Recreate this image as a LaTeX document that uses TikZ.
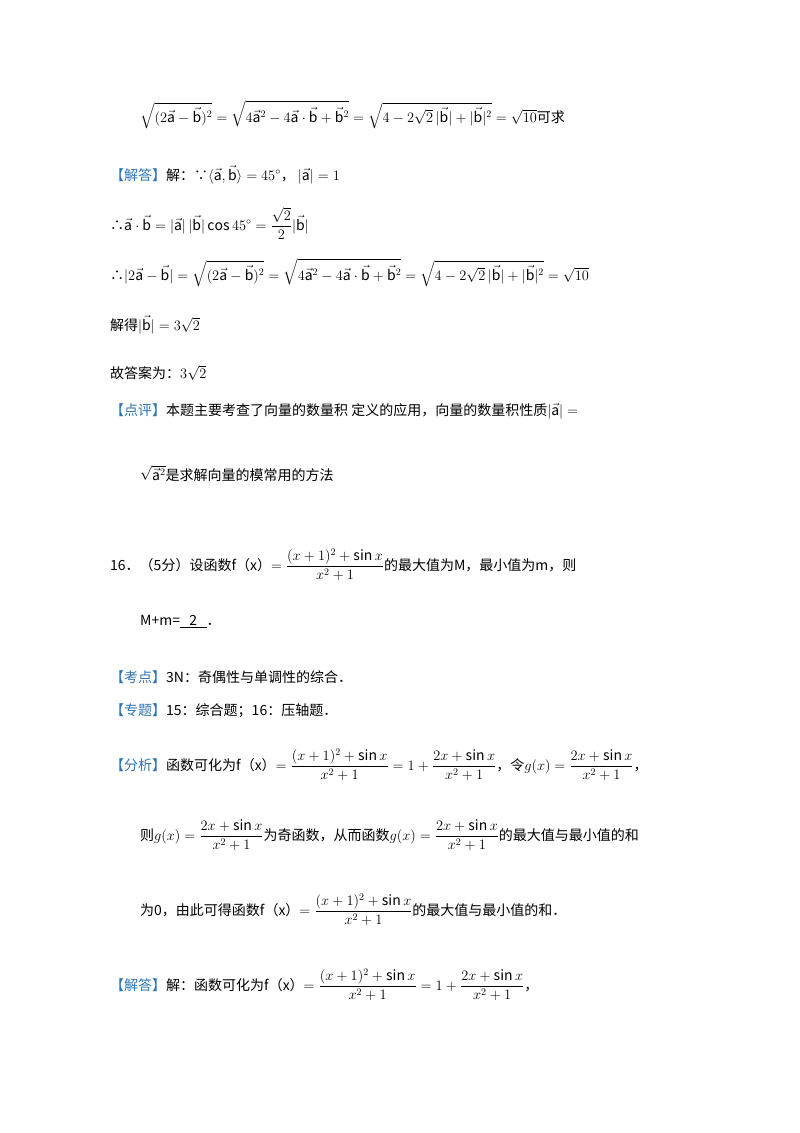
\documentclass[tikz,border=0pt]{standalone}
\usepackage{fontspec}
\usepackage{amsmath}
\setmainfont{Noto Sans CJK SC}
\definecolor{hd}{HTML}{2E74B5}
\begin{document}
\begin{tikzpicture}[x=1pt,y=-1pt,
  txt/.style={anchor=base west,inner sep=0,font=\fontsize{14}{17}\selectfont},
  hdr/.style={text=hd}]
\useasboundingbox (0,0) rectangle (800,1133);
\newcommand{\va}{\vec{\mathrm{a}}}
\newcommand{\vb}{\vec{\mathrm{b}}}
\newcommand{\hb}[1]{\textcolor{hd}{【#1】}}
\node[txt] (l1) at (140,122) {$\sqrt{(2\va-\vb)^2}=\sqrt{4\va^2-4\va\cdot\vb+\vb^2}=\sqrt{4-2\sqrt2\,|\vb|+|\vb|^2}=\sqrt{10}$可求};
\node[txt] (l2) at (110,180) {\hb{解答}解：∵$\langle\va,\vb\rangle=45^\circ$，\ $|\va|=1$};
\node[txt] (l3) at (110,230) {∴$\va\cdot\vb=|\va|\,|\vb|\cos45^\circ=\dfrac{\sqrt2}{2}|\vb|$};
\node[txt] (l4) at (110,280) {∴$|2\va-\vb|=\sqrt{(2\va-\vb)^2}=\sqrt{4\va^2-4\va\cdot\vb+\vb^2}=\sqrt{4-2\sqrt2\,|\vb|+|\vb|^2}=\sqrt{10}$};
\node[txt] (l5) at (110,330) {解得$|\vb|=3\sqrt2$};
\node[txt] (l6) at (110,378) {故答案为：$3\sqrt2$};
\node[txt] (l7) at (110,415) {\hb{点评}本题主要考查了向量的数量积\ 定义的应用，向量的数量积性质$|\va|=$};
\node[txt] (l8) at (140,480) {$\sqrt{\va^2}$是求解向量的模常用的方法};
\node[txt] (l9) at (110,570) {16．（5分）设函数f（x）$=\dfrac{(x+1)^2+\sin x}{x^2+1}$的最大值为M，最小值为m，则};
\node[txt] (l10) at (140,625) {M+m=\underline{\ \ \ 2\ \ \ }．};
\node[txt] (l11) at (110,682) {\hb{考点}3N：奇偶性与单调性的综合．};
\node[txt] (l12) at (110,715) {\hb{专题}15：综合题；16：压轴题．};
\node[txt] (l13) at (110,770) {\hb{分析}函数可化为f（x）$=\dfrac{(x+1)^2+\sin x}{x^2+1}=1+\dfrac{2x+\sin x}{x^2+1}$，令$g(x)=\dfrac{2x+\sin x}{x^2+1}$，};
\node[txt] (l14) at (140,840) {则$g(x)=\dfrac{2x+\sin x}{x^2+1}$为奇函数，从而函数$g(x)=\dfrac{2x+\sin x}{x^2+1}$的最大值与最小值的和};
\node[txt] (l15) at (140,915) {为0，由此可得函数f（x）$=\dfrac{(x+1)^2+\sin x}{x^2+1}$的最大值与最小值的和．};
\node[txt] (l16) at (110,990) {\hb{解答}解：函数可化为f（x）$=\dfrac{(x+1)^2+\sin x}{x^2+1}=1+\dfrac{2x+\sin x}{x^2+1}$，};
\end{tikzpicture}
\end{document}
